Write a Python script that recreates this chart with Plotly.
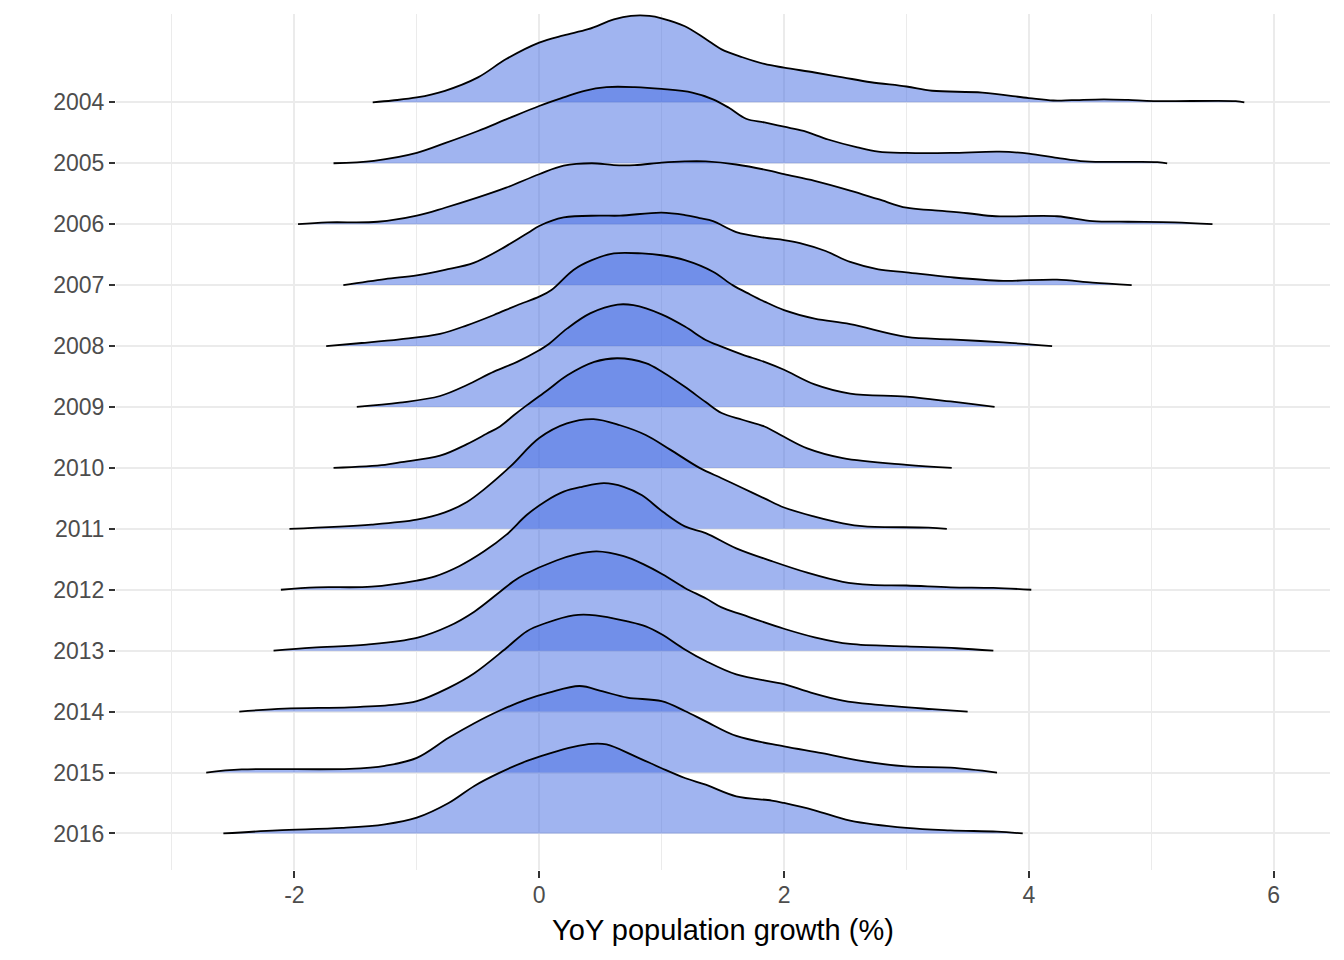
import plotly.graph_objects as go

# years from top to bottom
years = [2004, 2005, 2006, 2007, 2008, 2009, 2010, 2011, 2012, 2013, 2014, 2015, 2016]

# density outlines: x = growth (%), h = ridge height (in row spacings)
x_2004 = [-1.36, -1.2, -1.0, -0.77, -0.50, -0.27, 0.0, 0.20, 0.40, 0.61, 0.75, 0.90, 1.00, 1.19, 1.36, 1.49,
          1.66, 1.84, 2.0, 2.25, 2.48, 2.71, 3.0, 3.21, 3.62, 4.0, 4.20, 4.35, 4.61, 4.81, 5.02, 5.69, 5.76]
h_2004 = [0, 0.03, 0.08, 0.19, 0.41, 0.71, 0.98, 1.10, 1.20, 1.36, 1.42, 1.42, 1.38, 1.25, 1.04, 0.87,
          0.74, 0.63, 0.57, 0.49, 0.41, 0.33, 0.26, 0.19, 0.16, 0.07, 0.03, 0.035, 0.05, 0.04, 0.02, 0.02, 0]

x_2005 = [-1.68, -1.35, -1.0, -0.77, -0.50, -0.27, 0.0, 0.20, 0.37, 0.55, 0.78, 1.0, 1.25, 1.42, 1.55,
          1.69, 1.84, 2.0, 2.16, 2.36, 2.60, 2.77, 3.0, 3.36, 3.76, 4.0, 4.23, 4.46, 5.05, 5.13]
h_2005 = [0, 0.04, 0.17, 0.33, 0.53, 0.72, 0.94, 1.08, 1.19, 1.25, 1.25, 1.22, 1.16, 1.05, 0.91,
          0.73, 0.67, 0.60, 0.53, 0.39, 0.26, 0.19, 0.17, 0.17, 0.19, 0.16, 0.09, 0.03, 0.02, 0]

x_2006 = [-1.97, -1.73, -1.32, -1.0, -0.77, -0.50, -0.27, 0.0, 0.20, 0.43, 0.61, 0.78, 1.0, 1.19, 1.36,
          1.61, 1.90, 2.0, 2.25, 2.54, 2.77, 3.0, 3.21, 3.50, 3.73, 4.23, 4.52, 4.81, 5.19, 5.50]
h_2006 = [0, 0.03, 0.04, 0.14, 0.27, 0.44, 0.60, 0.82, 0.96, 1.00, 0.97, 0.97, 1.01, 1.03, 1.03,
          0.98, 0.87, 0.82, 0.71, 0.55, 0.41, 0.27, 0.23, 0.18, 0.13, 0.13, 0.05, 0.04, 0.03, 0]

x_2007 = [-1.60, -1.26, -1.0, -0.77, -0.53, -0.27, -0.09, 0.0, 0.20, 0.49, 0.66, 1.0, 1.19, 1.31, 1.42,
          1.61, 1.84, 2.0, 2.13, 2.34, 2.54, 2.77, 3.0, 3.36, 3.79, 4.23, 4.52, 4.84]
h_2007 = [0, 0.10, 0.16, 0.25, 0.37, 0.64, 0.86, 0.97, 1.11, 1.14, 1.14, 1.19, 1.15, 1.10, 1.05,
          0.87, 0.78, 0.74, 0.69, 0.56, 0.38, 0.26, 0.21, 0.13, 0.07, 0.09, 0.04, 0]

x_2008 = [-1.74, -1.45, -1.14, -0.81, -0.59, -0.37, -0.18, 0.0, 0.10, 0.28, 0.43, 0.61, 0.84, 1.0, 1.19,
          1.42, 1.58, 1.72, 1.84, 2.0, 2.25, 2.54, 3.0, 3.36, 3.79, 4.19]
h_2008 = [0, 0.05, 0.11, 0.20, 0.34, 0.51, 0.67, 0.81, 0.92, 1.25, 1.41, 1.52, 1.52, 1.49, 1.41,
          1.22, 1.0, 0.85, 0.73, 0.59, 0.45, 0.36, 0.15, 0.11, 0.06, 0]

x_2009 = [-1.49, -1.14, -0.81, -0.59, -0.37, -0.18, 0.0, 0.07, 0.23, 0.42, 0.64, 0.77, 1.0, 1.19, 1.36, 1.49,
          1.66, 1.84, 2.0, 2.25, 2.54, 3.0, 3.36, 3.72]
h_2009 = [0, 0.07, 0.18, 0.36, 0.58, 0.74, 0.93, 1.02, 1.29, 1.54, 1.68, 1.67, 1.52, 1.32, 1.10, 0.99,
          0.86, 0.74, 0.61, 0.37, 0.22, 0.17, 0.09, 0]

x_2010 = [-1.68, -1.26, -1.14, -0.81, -0.59, -0.43, -0.32, -0.21, -0.10, 0.07, 0.23, 0.45, 0.64, 0.87, 1.01,
          1.19, 1.36, 1.49, 1.66, 1.84, 2.0, 2.19, 2.48, 3.0, 3.37]
h_2010 = [0, 0.05, 0.09, 0.20, 0.39, 0.56, 0.68, 0.86, 1.03, 1.28, 1.52, 1.74, 1.80, 1.72, 1.57,
          1.33, 1.08, 0.90, 0.79, 0.68, 0.51, 0.32, 0.16, 0.05, 0]

x_2011 = [-2.04, -1.37, -1.0, -0.77, -0.59, -0.455, -0.237, 0.0, 0.226, 0.444, 0.66, 0.87, 1.07, 1.31,
          1.49, 1.66, 1.84, 2.0, 2.25, 2.48, 2.66, 3.18, 3.33]
h_2011 = [0, 0.07, 0.15, 0.27, 0.44, 0.64, 1.02, 1.49, 1.73, 1.80, 1.70, 1.54, 1.30, 1.00,
          0.83, 0.67, 0.50, 0.35, 0.20, 0.09, 0.04, 0.02, 0]

x_2012 = [-2.11, -1.82, -1.37, -1.0, -0.85, -0.65, -0.45, -0.27, -0.10, 0.05, 0.20, 0.35, 0.53, 0.69, 0.84,
          1.01, 1.19, 1.36, 1.61, 1.90, 2.19, 2.48, 2.71, 3.0, 3.36, 3.71, 4.02]
h_2012 = [0, 0.04, 0.05, 0.15, 0.22, 0.39, 0.63, 0.90, 1.23, 1.45, 1.61, 1.69, 1.75, 1.69, 1.55,
          1.28, 1.04, 0.93, 0.68, 0.47, 0.28, 0.13, 0.08, 0.07, 0.04, 0.03, 0]

x_2013 = [-2.17, -1.85, -1.41, -1.0, -0.74, -0.53, -0.33, -0.21, -0.12, 0.14, 0.30, 0.47, 0.69, 0.85, 1.01,
          1.19, 1.36, 1.49, 1.66, 2.0, 2.25, 2.54, 3.0, 3.41, 3.71]
h_2013 = [0, 0.05, 0.10, 0.21, 0.40, 0.64, 0.95, 1.14, 1.25, 1.48, 1.58, 1.63, 1.55, 1.42, 1.25,
          1.03, 0.86, 0.71, 0.59, 0.36, 0.22, 0.11, 0.07, 0.04, 0]

x_2014 = [-2.45, -2.08, -1.55, -1.20, -1.0, -0.74, -0.53, -0.27, -0.10, 0.05, 0.28, 0.46, 0.72, 0.87, 1.0,
          1.19, 1.36, 1.61, 2.0, 2.19, 2.48, 2.77, 3.21, 3.50]
h_2014 = [0, 0.05, 0.07, 0.11, 0.17, 0.39, 0.63, 1.04, 1.32, 1.45, 1.58, 1.58, 1.48, 1.40, 1.27,
          1.02, 0.83, 0.61, 0.45, 0.33, 0.18, 0.11, 0.04, 0]

x_2015 = [-2.72, -2.43, -1.55, -1.26, -1.0, -0.74, -0.53, -0.33, -0.10, 0.08, 0.33, 0.52, 0.72, 1.0, 1.19,
          1.36, 1.61, 2.0, 2.31, 2.63, 3.0, 3.36, 3.74]
h_2015 = [0, 0.05, 0.06, 0.11, 0.24, 0.57, 0.81, 1.01, 1.20, 1.31, 1.42, 1.33, 1.23, 1.17, 1.01,
          0.84, 0.60, 0.43, 0.32, 0.19, 0.10, 0.08, 0]

x_2016 = [-2.58, -2.14, -1.61, -1.26, -1.0, -0.74, -0.53, -0.33, -0.10, 0.08, 0.28, 0.43, 0.55, 0.78, 1.0,
          1.19, 1.36, 1.61, 1.90, 2.0, 2.25, 2.54, 3.0, 3.36, 3.74, 3.95]
h_2016 = [0, 0.05, 0.09, 0.15, 0.26, 0.50, 0.78, 0.99, 1.19, 1.31, 1.42, 1.47, 1.46, 1.27, 1.07,
          0.91, 0.80, 0.61, 0.54, 0.50, 0.38, 0.21, 0.09, 0.05, 0.03, 0]

x_ticks = [-2, 0, 2, 4, 6]
x_tick_labels = ["-2", "0", "2", "4", "6"]
x_minor = [-3, -1, 1, 3, 5]

ridges = {
    2004: (x_2004, h_2004), 2005: (x_2005, h_2005), 2006: (x_2006, h_2006),
    2007: (x_2007, h_2007), 2008: (x_2008, h_2008), 2009: (x_2009, h_2009),
    2010: (x_2010, h_2010), 2011: (x_2011, h_2011), 2012: (x_2012, h_2012),
    2013: (x_2013, h_2013), 2014: (x_2014, h_2014), 2015: (x_2015, h_2015),
    2016: (x_2016, h_2016),
}

n = len(years)
fig = go.Figure()

# draw from the top ridge to the bottom one so lower ridges sit in front
for i, yr in enumerate(years):
    base = n - 1 - i
    xs, hs = ridges[yr]
    fig.add_trace(go.Scatter(
        x=xs, y=[base + h for h in hs], mode='lines',
        fill='toself', fillcolor='rgba(65,105,225,0.5)',
        line=dict(color='black', width=1.8, shape='spline', smoothing=1.0),
        hoverinfo='skip', showlegend=False))

grid = '#EBEBEB'
tick_font = dict(family='Liberation Sans, Arial, sans-serif', size=23, color='#4D4D4D')

# the page body adds an 8px margin, so the figure is a bit smaller than the window
fig.update_layout(
    width=1336, height=952,
    margin=dict(l=108, r=14, t=6, b=90),
    plot_bgcolor='white', paper_bgcolor='white',
    showlegend=False,
    font=dict(family='Liberation Sans, Arial, sans-serif'),
    xaxis=dict(range=[-3.457, 6.46], tickmode='array', tickvals=x_ticks, ticktext=x_tick_labels,
               ticks='outside', ticklen=7, tickwidth=1.5, tickcolor='#333333',
               showgrid=True, gridcolor=grid, gridwidth=1.6, zeroline=False, showline=False,
               minor=dict(tickmode='array', tickvals=x_minor, showgrid=True, gridcolor=grid,
                          gridwidth=0.9, ticks=''),
               tickfont=tick_font, ticklabelstandoff=-3, automargin=False,
               title=dict(text='YoY population growth (%)', standoff=13,
                          font=dict(size=29, color='black'))),
    yaxis=dict(range=[-0.6, 13.45], tickmode='array', tickvals=[n - 1 - i for i in range(n)],
               ticktext=[str(y) for y in years],
               ticks='outside', ticklen=6, tickwidth=1.5, tickcolor='#333333',
               showgrid=True, gridcolor=grid, gridwidth=1.6, zeroline=False, showline=False,
               tickfont=tick_font, automargin=False),
)

fig.write_html("out.html")
